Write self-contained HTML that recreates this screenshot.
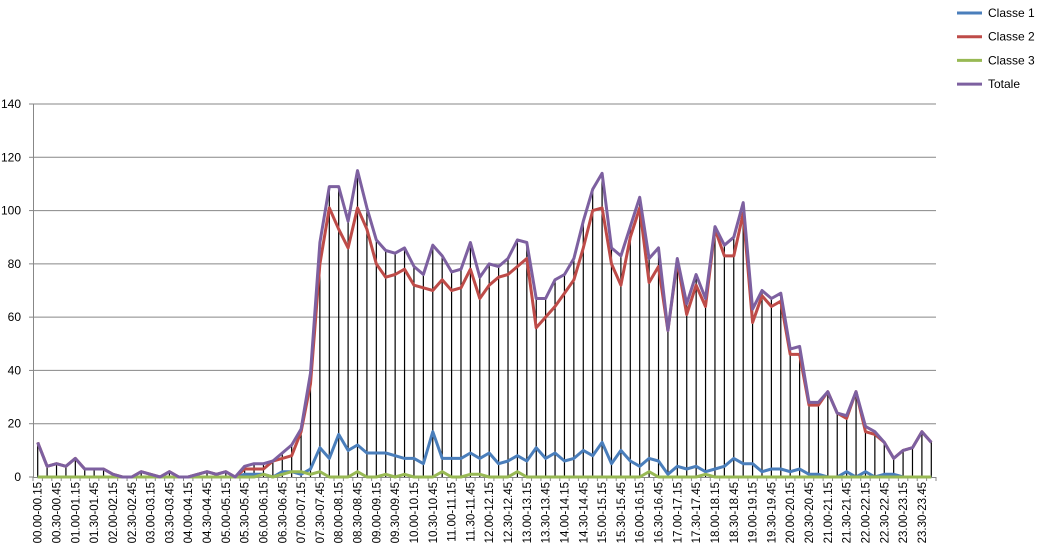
<!DOCTYPE html>
<html><head><meta charset="utf-8"><style>
html,body{margin:0;padding:0;background:#fff;}
svg{display:block;font-family:"Liberation Sans",sans-serif;}
</style></head><body>
<svg id="chart" width="1039" height="554" viewBox="0 0 1039 554" xmlns="http://www.w3.org/2000/svg">
<g id="grid"></g>
<g id="yaxis"></g>
<g id="xaxis"></g>
<g id="drops"></g>
<g id="series"></g>
<g id="legend"></g>
</svg>
<script>
const yTicks=[0,20,40,60,80,100,120,140];
const totale=[13,4,5,4,7,3,3,3,1,0,0,2,1,0,2,0,0,1,2,1,2,0,4,5,5,6,9,12,18,39,88,109,109,96,115,101,89,85,84,86,79,76,87,83,77,78,88,75,80,79,82,89,88,67,67,74,76,82,96,108,114,86,83,94,105,82,86,55,82,65,76,67,94,87,90,103,63,70,67,69,48,49,28,28,32,24,23,32,19,17,13,7,10,11,17,13];
const classe2=[13,4,5,4,7,3,3,3,1,0,0,2,1,0,2,0,0,1,2,1,2,0,3,3,3,6,7,8,17,35,80,101,93,86,101,93,80,75,76,78,72,71,70,74,70,71,78,67,72,75,76,79,82,56,60,64,69,74,86,100,101,80,72,90,101,73,79,55,81,61,72,64,93,83,83,99,58,68,64,66,46,46,27,27,32,24,22,32,17,16,13,7,10,11,17,13];
const classe1=[0,0,0,0,0,0,0,0,0,0,0,0,0,0,0,0,0,0,0,0,0,0,1,1,1,0,2,2,1,3,11,7,16,10,12,9,9,9,8,7,7,5,17,7,7,7,9,7,9,5,6,8,6,11,7,9,6,7,10,8,13,5,10,6,4,7,6,1,4,3,4,2,3,4,7,5,5,2,3,3,2,3,1,1,0,0,2,0,2,0,1,1,0,0,0,0];
const classe3=[0,0,0,0,0,0,0,0,0,0,0,0,0,0,0,0,0,0,0,0,0,0,0,0,1,0,1,2,2,1,2,0,0,0,2,0,0,1,0,1,0,0,0,2,0,0,1,1,0,0,0,2,0,0,0,0,0,0,0,0,0,0,0,0,0,2,0,0,0,0,0,1,0,0,0,0,0,0,0,0,0,0,0,0,0,0,0,0,0,0,0,0,0,0,0,0];
const seriesNames=["Classe 1","Classe 2","Classe 3","Totale"];
const seriesColors=["#4a7ebb","#be4b48","#98b954","#7d60a0"];

const NS="http://www.w3.org/2000/svg";
const X0=33,X1=936,Y0=477,Y1=104,N=totale.length,YMAX=140;
const xS=i=>X0+(i+0.5)*(X1-X0)/N;
const yS=v=>Y0-v*(Y0-Y1)/YMAX;
function mk(tag,attrs,parent){const e=document.createElementNS(NS,tag);for(const k in attrs)e.setAttribute(k,attrs[k]);parent.appendChild(e);return e;}
function pad(n){return (n<10?"0":"")+n;}
function lbl(i){const a=i*15,b=a+15;return pad(Math.floor(a/60))+"."+pad(a%60)+"-"+pad(Math.floor(b/60)%25)+"."+pad(b%60);}

const grid=document.getElementById('grid');
yTicks.forEach(t=>{if(t===0)return;const l=mk('line',{x1:X0,x2:X1,y1:yS(t),y2:yS(t),stroke:'#878787','stroke-width':1},grid);

});
const ya=document.getElementById('yaxis');
const axl=mk('line',{x1:X0+0.5,x2:X0+0.5,y1:Y1,y2:Y0,stroke:'#878787'},ya);


yTicks.forEach(t=>{const tx=mk('text',{x:21,y:yS(t)+4,'text-anchor':'end','font-size':12,fill:'#000'},ya);tx.textContent=t;


const tk=mk('line',{x1:X0-4,x2:X0,y1:yS(t),y2:yS(t),stroke:'#878787'},ya);

});
const xa=document.getElementById('xaxis');
const bl=mk('line',{x1:X0,x2:X1,y1:Y0+0.5,y2:Y0+0.5,stroke:'#878787'},xa);


for(let i=0;i<=N;i++){const x=X0+i*(X1-X0)/N;const tk=mk('line',{x1:x,x2:x,y1:Y0,y2:Y0+4,stroke:'#878787'},xa);

}
for(let i=0;i<N;i+=2){const x=xS(i)+4,y=482;const tx=mk('text',{x:x,y:y,transform:'rotate(-90 '+x+' '+y+')','text-anchor':'end','font-size':11.5,fill:'#000'},xa);tx.textContent=lbl(i);

}
const dr=document.getElementById('drops');
totale.forEach((v,i)=>{const m=Math.max(v,classe1[i],classe2[i],classe3[i]);const l=mk('line',{x1:xS(i),x2:xS(i),y1:yS(m),y2:Y0,stroke:'#000','stroke-width':1.2},dr);

});
const sg=document.getElementById('series');
[classe1,classe2,classe3,totale].forEach((arr,k)=>{const d=arr.map((v,i)=>(i?'L':'M')+xS(i).toFixed(1)+' '+yS(v).toFixed(1)).join(' ');
const p=mk('path',{d:d,fill:'none',stroke:seriesColors[k],'stroke-width':3,'stroke-linejoin':'round'},sg);

});
const lg=document.getElementById('legend');
seriesNames.forEach((n,k)=>{const y=13+k*23.7;const l=mk('line',{x1:957,x2:982,y1:y,y2:y,stroke:seriesColors[k],'stroke-width':3},lg);


const t=mk('text',{x:988,y:y+4,'font-size':12,fill:'#000'},lg);t.textContent=n;

});
</script>
</body></html>
